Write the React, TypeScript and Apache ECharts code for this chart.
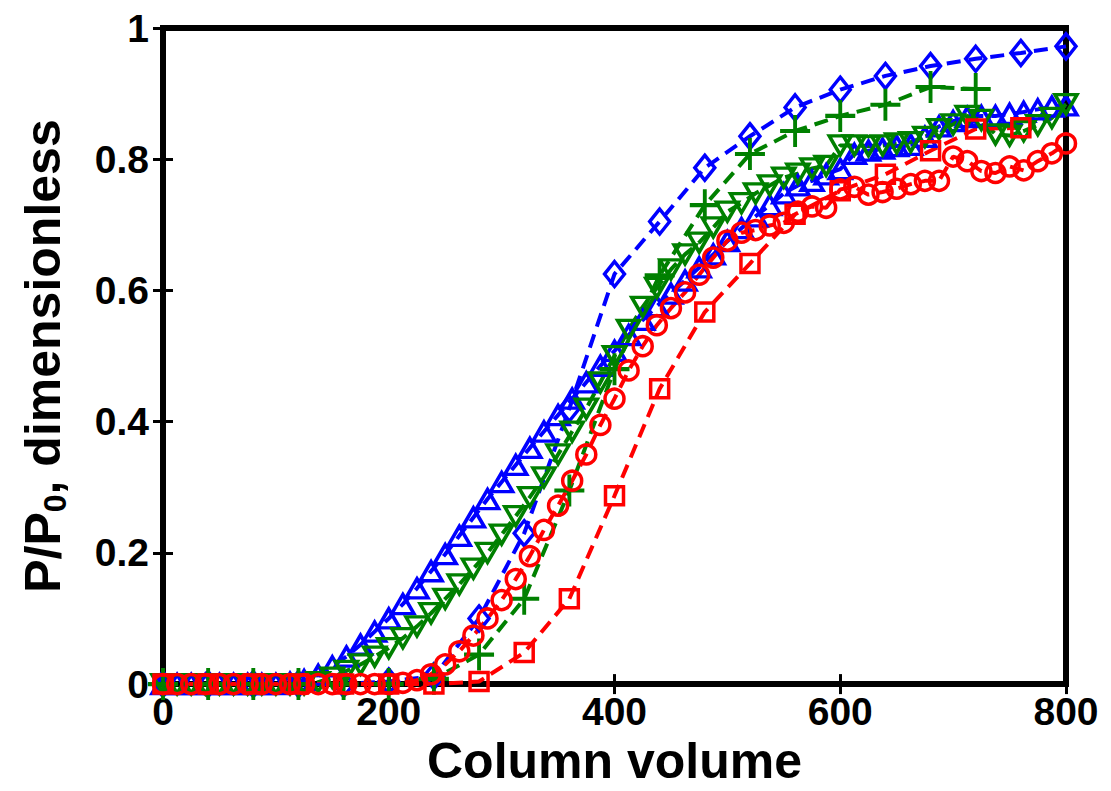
import React, { useEffect, useRef } from "react";
import * as echarts from "echarts";

// x positions (column volume)
const xSparse = [0, 40, 80, 120, 160, 200, 240, 280, 320, 360, 400, 440, 480, 520, 560, 600, 640, 680, 720, 760, 800];
const xDense = [
  0, 12.5, 25, 37.5, 50, 62.5, 75, 87.5, 100, 112.5, 125, 137.5, 150, 162.5, 175, 187.5,
  200, 212.5, 225, 237.5, 250, 262.5, 275, 287.5, 300, 312.5, 325, 337.5, 350, 362.5, 375, 387.5,
  400, 412.5, 425, 437.5, 450, 462.5, 475, 487.5, 500, 512.5, 525, 537.5, 550, 562.5, 575, 587.5,
  600, 612.5, 625, 637.5, 650, 662.5, 675, 687.5, 700, 712.5, 725, 737.5, 750, 762.5, 775, 787.5, 800,
];

// series values
const blueDiamond = [0, 0, 0, 0, 0, 0.004, 0.012, 0.1, 0.23, 0.42, 0.625, 0.705, 0.787, 0.835, 0.879, 0.906, 0.927, 0.942, 0.953, 0.962, 0.972];
const greenPlus = [0, 0, 0, 0, 0, 0, 0.008, 0.045, 0.13, 0.295, 0.48, 0.623, 0.73, 0.808, 0.843, 0.866, 0.883, 0.91, 0.907];
const redSquare = [0, 0, 0, 0, 0, 0, 0, 0.004, 0.048, 0.13, 0.287, 0.45, 0.567, 0.641, 0.716, 0.752, 0.777, 0.813, 0.846, 0.848];

const blueTriangle = [
  0, 0, 0, 0, 0, 0, 0, 0, 0, 0.002, 0.006, 0.014, 0.027, 0.042, 0.06, 0.08,
  0.1, 0.122, 0.146, 0.172, 0.198, 0.226, 0.254, 0.282, 0.308, 0.334, 0.36, 0.385, 0.41, 0.435, 0.46, 0.485,
  0.508, 0.532, 0.555, 0.576, 0.595, 0.615, 0.635, 0.655, 0.675, 0.695, 0.713, 0.73, 0.748, 0.76, 0.767, 0.777,
  0.785, 0.808, 0.813, 0.816, 0.82, 0.822, 0.834, 0.85, 0.858, 0.864, 0.866, 0.866, 0.869, 0.872, 0.876, 0.88, 0.882,
];
const greenTriangle = [
  0, 0, 0, 0, 0, 0, 0, 0, 0, 0, 0, 0.003, 0.01, 0.02, 0.03, 0.042,
  0.055, 0.07, 0.088, 0.108, 0.13, 0.152, 0.176, 0.2, 0.228, 0.256, 0.285, 0.315, 0.35, 0.385, 0.42, 0.46,
  0.5, 0.54, 0.575, 0.604, 0.632, 0.655, 0.673, 0.696, 0.72, 0.733, 0.748, 0.76, 0.772, 0.778, 0.786, 0.79,
  0.821, 0.821, 0.82, 0.821, 0.824, 0.826, 0.834, 0.846, 0.853, 0.866, 0.86, 0.838, 0.836, 0.843, 0.852, 0.863, 0.884,
];
const redCircle = [
  0, 0, 0, 0, 0, 0, 0, 0, 0, 0, 0, 0, 0, 0, 0, 0,
  0, 0.002, 0.006, 0.015, 0.03, 0.05, 0.074, 0.1, 0.128, 0.16, 0.195, 0.235, 0.272, 0.31, 0.35, 0.395,
  0.435, 0.478, 0.515, 0.547, 0.573, 0.597, 0.624, 0.65, 0.676, 0.688, 0.692, 0.699, 0.703, 0.72, 0.728, 0.726,
  0.754, 0.758, 0.746, 0.75, 0.755, 0.762, 0.767, 0.767, 0.804, 0.797, 0.782, 0.779, 0.789, 0.783, 0.797, 0.809, 0.824,
];

const xTicks = [0, 200, 400, 600, 800];
const yTicks = [0, 0.2, 0.4, 0.6, 0.8, 1];

const BLUE = "#0000ff";
const GREEN = "#008000";
const RED = "#ff0000";
const FONT = "Liberation Sans";

const pairs = (xs: number[], ys: number[]) => ys.map((y, i) => [xs[i], y]);

function mk(name: string, xs: number[], ys: number[], color: string, symbol: string, size: any, bw: number) {
  return {
    name,
    type: "line",
    data: pairs(xs, ys),
    symbol,
    symbolSize: size,
    showAllSymbol: true,
    lineStyle: { color, width: 4, type: [14, 8] },
    itemStyle: { color: "rgba(0,0,0,0)", borderColor: color, borderWidth: bw },
    emphasis: { disabled: true },
    z: 3,
  };
}

export default function App() {
  const ref = useRef<HTMLDivElement>(null);
  useEffect(() => {
    const chart = echarts.init(ref.current!, null, { renderer: "svg" });
    const labelStyle = { fontFamily: FONT, fontWeight: "bold" as const, fontSize: 39, color: "#000" };
    const tick = { show: true, inside: true, length: 10, lineStyle: { color: "#000", width: 3 } };
    chart.setOption({
      animation: false,
      backgroundColor: "#fff",
      grid: {
        left: 163, right: 45, top: 28, bottom: 98,
        show: true, borderColor: "#000", borderWidth: 6, backgroundColor: "transparent",
      },
      xAxis: [
        {
          type: "value", min: 0, max: 800, interval: 200,
          axisLine: { show: false }, axisTick: tick, splitLine: { show: false },
          axisLabel: { ...labelStyle, margin: 8, formatter: (v: number) => (xTicks.includes(v) ? String(v) : "") },
          name: "Column volume", nameLocation: "middle", nameGap: 40,
          nameTextStyle: { fontFamily: FONT, fontWeight: "bold", fontSize: 50, color: "#000" },
        },
        {
          type: "value", min: 0, max: 800, interval: 200, position: "top",
          axisLine: { show: false }, axisTick: tick, splitLine: { show: false }, axisLabel: { show: false },
        },
      ],
      yAxis: [
        {
          type: "value", min: 0, max: 1, interval: 0.2,
          axisLine: { show: false }, axisTick: tick, splitLine: { show: false },
          axisLabel: { ...labelStyle, margin: 14, formatter: (v: number) => { const t = yTicks.find((k) => Math.abs(k - v) < 1e-9); return t === undefined ? "" : String(t); } },
          name: "{a|P/P}{s|0}{a|, dimensionless}", nameLocation: "middle", nameGap: 92, nameRotate: 90,
          nameTextStyle: {
            color: "#000",
            rich: {
              a: { fontFamily: FONT, fontWeight: "bold", fontSize: 50, color: "#000", lineHeight: 56 },
              s: { fontFamily: FONT, fontWeight: "bold", fontSize: 32, color: "#000", lineHeight: 56, verticalAlign: "bottom", padding: [22, 0, 0, 0] },
            },
          },
        },
        {
          type: "value", min: 0, max: 1, interval: 0.2, position: "right",
          axisLine: { show: false }, axisTick: tick, splitLine: { show: false }, axisLabel: { show: false },
        },
      ],
      series: [
        mk("bd", xSparse, blueDiamond, BLUE, "diamond", [20, 25], 3.5),
        mk("bt", xDense, blueTriangle, BLUE, "triangle", [22, 19], 3.5),
        mk("gp", xSparse, greenPlus, GREEN, "path://M5,0L5,10M0,5L10,5", [30, 32], 4),
        mk("gt", xDense, greenTriangle, GREEN, "path://M0,0L10,0L5,9Z", [22, 19], 3.5),
        mk("rc", xDense, redCircle, RED, "circle", 19, 3.5),
        mk("rs", xSparse, redSquare, RED, "rect", [18, 18], 3.5),
      ],
    });
    return () => chart.dispose();
  }, []);
  return <div ref={ref} style={{ position: "fixed", left: 0, top: 0, width: 1111, height: 791 }} />;
}
